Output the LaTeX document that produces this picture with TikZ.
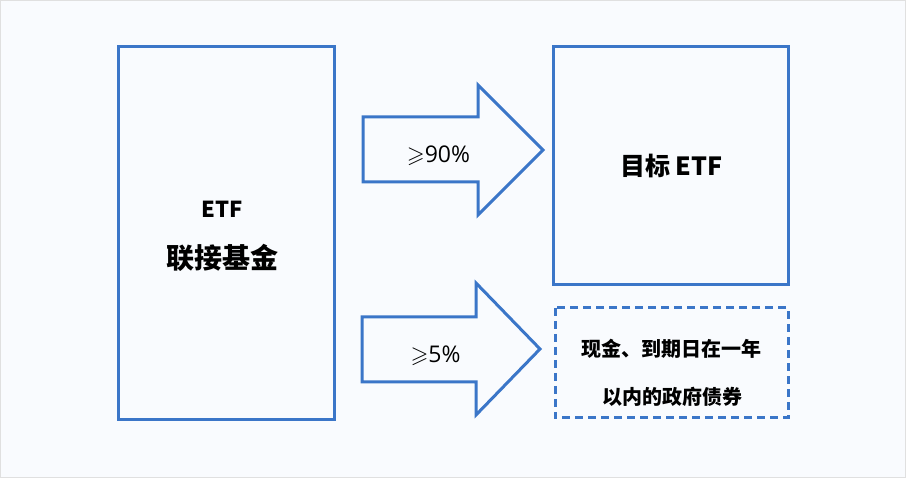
\documentclass[tikz,border=0pt]{standalone}
\usepackage{amssymb}
\usepackage{fontspec}
\setmainfont{Noto Sans CJK SC}
\newfontfamily\latinfont{Open Sans}
\definecolor{lineblue}{HTML}{3B76C8}
\definecolor{bgcol}{HTML}{F9FBFE}
\begin{document}
\begin{tikzpicture}[x=1pt,y=-1pt,
  box/.style={draw=lineblue, line width=3pt},
  dashbox/.style={draw=lineblue, line width=3pt, dash pattern=on 8pt off 5pt},
  bigarrow/.style={draw=lineblue, fill=bgcol, line width=3pt, line join=miter},
  cjk/.style={font=\bfseries, inner sep=0pt},
  pct/.style={font=\latinfont\fontsize{23}{26}\selectfont, inner sep=0pt}]
\fill[bgcol] (0,0) rectangle (906,478);
\draw[black!12, line width=1pt] (0.5,0.5) rectangle (905.5,477.5);
% boxes
\draw[box] (118,47) rectangle (334,420);
\draw[box] (553,47) rectangle (788,285);
\draw[dashbox] (555,308) rectangle (788,418);
% arrows
\draw[bigarrow] (363,117) -- (478,117) -- (478,85) -- (543,150) -- (478,215) -- (478,182) -- (363,182) -- cycle;
\draw[bigarrow] (362,317) -- (476,317) -- (476,283) -- (540,349) -- (476,415) -- (476,382) -- (362,382) -- cycle;
% texts
\node[cjk, font=\bfseries\fontsize{22}{24}\selectfont] (etf) at (222,209) {ETF};
\node[cjk, font=\bfseries\fontsize{28}{30}\selectfont] (lj) at (222,258) {联接基金};
\node[cjk, font=\bfseries\fontsize{25}{28}\selectfont] (tgt) at (671.5,166) {目标 ETF};
\node[cjk, font=\bfseries\fontsize{20}{22}\selectfont] (l1) at (671,348.5) {现金、到期日在一年};
\node[cjk, font=\bfseries\fontsize{20}{22}\selectfont] (l2) at (672.5,396.5) {以内的政府债券};
\node[pct] (p90) at (438.5,156) {$\geqslant$90\%};
\node[pct] (p5) at (435.5,356) {$\geqslant$5\%};
\end{tikzpicture}
\end{document}
